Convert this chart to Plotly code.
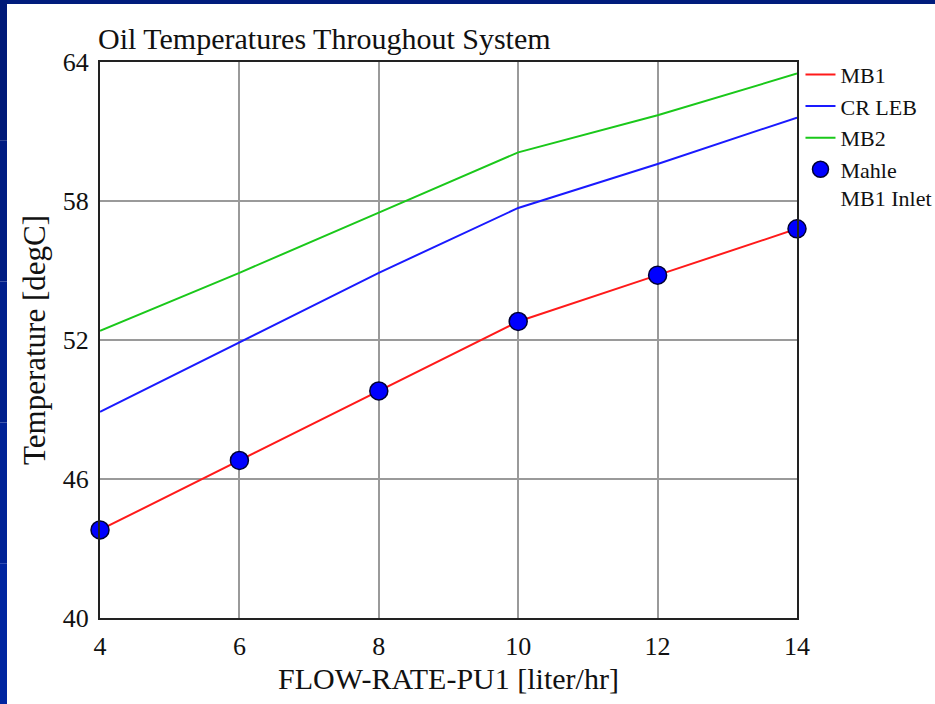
import plotly.graph_objects as go

flow = [4, 6, 8, 10, 12, 14]
mb1 = [43.8, 46.8, 49.8, 52.8, 54.8, 56.8]
cr_leb = [48.9, 51.9, 54.9, 57.7, 59.6, 61.6]
mb2 = [52.4, 54.9, 57.5, 60.1, 61.7, 63.5]
mahle_mb1_inlet = [43.8, 46.8, 49.8, 52.8, 54.8, 56.8]

x_ticks = [4, 6, 8, 10, 12, 14]
y_ticks = [40, 46, 52, 58, 64]

FONT = "Liberation Serif"

fig = go.Figure()
fig.add_trace(go.Scatter(x=flow, y=mb1, mode="lines", name="MB1",
                         line=dict(color="#ff1a1a", width=2)))
fig.add_trace(go.Scatter(x=flow, y=cr_leb, mode="lines", name="CR LEB",
                         line=dict(color="#1a1aff", width=2)))
fig.add_trace(go.Scatter(x=flow, y=mb2, mode="lines", name="MB2",
                         line=dict(color="#1ac81a", width=2)))
fig.add_trace(go.Scatter(x=flow, y=mahle_mb1_inlet, mode="markers", name="Mahle<br>MB1 Inlet",
                         marker=dict(color="#0000ff", size=18, symbol="circle",
                                     line=dict(color="#000033", width=1.5)),
                         cliponaxis=False))

axis_common = dict(showgrid=True, gridcolor="#9a9a9a", gridwidth=2,
                   showline=True, linecolor="#222222", linewidth=2, mirror=True,
                   zeroline=False, ticks="",
                   tickfont=dict(family=FONT, size=26, color="#111111"))

fig.update_layout(
    width=935, height=704,
    margin=dict(l=100, r=138, t=62, b=86, autoexpand=False),
    paper_bgcolor="white", plot_bgcolor="white",
    font=dict(family=FONT, color="#111111"),
    title=dict(text="Oil Temperatures Throughout System", x=98/935, xanchor="left",
               y=1 - 38/704, yanchor="middle", xref="container", yref="container",
               font=dict(family=FONT, size=30, color="#111111")),
    xaxis=dict(range=[4, 14], tickvals=x_ticks, ticklabelstandoff=4,
               title=dict(text="FLOW-RATE-PU1 [liter/hr]", font=dict(family=FONT, size=30, color="#111111"),
                          standoff=8),
               **axis_common),
    yaxis=dict(range=[40, 64], tickvals=y_ticks, ticklabelstandoff=4,
               title=dict(text="Temperature [degC]", font=dict(family=FONT, size=31, color="#111111"),
                          standoff=8),
               **axis_common),
    legend=dict(x=1.005, y=1.015, xanchor="left", yanchor="top",
                font=dict(family=FONT, size=22, color="#111111"),
                bgcolor="rgba(0,0,0,0)", valign="top", itemwidth=30,
                tracegroupgap=0),
    showlegend=True,
)

# slide border strips (top and left)
fig.add_shape(type="rect", xref="paper", yref="paper",
              x0=-100/697, x1=(935-100)/697, y0=1 + (62-4)/556, y1=1 + 62/556,
              fillcolor="#001c7c", line_width=0, layer="above")
left_colors = ["#001a78", "#001c82", "#001f8c", "#002296", "#0025a0"]
n = len(left_colors)
for i, c in enumerate(left_colors):
    top_px = i * 704 / n
    bot_px = (i + 1) * 704 / n
    fig.add_shape(type="rect", xref="paper", yref="paper",
                  x0=-100/697, x1=(7-100)/697,
                  y0=(618 - bot_px)/556, y1=(618 - top_px)/556,
                  fillcolor=c, line_width=0, layer="above")

fig.write_html("out.html")
